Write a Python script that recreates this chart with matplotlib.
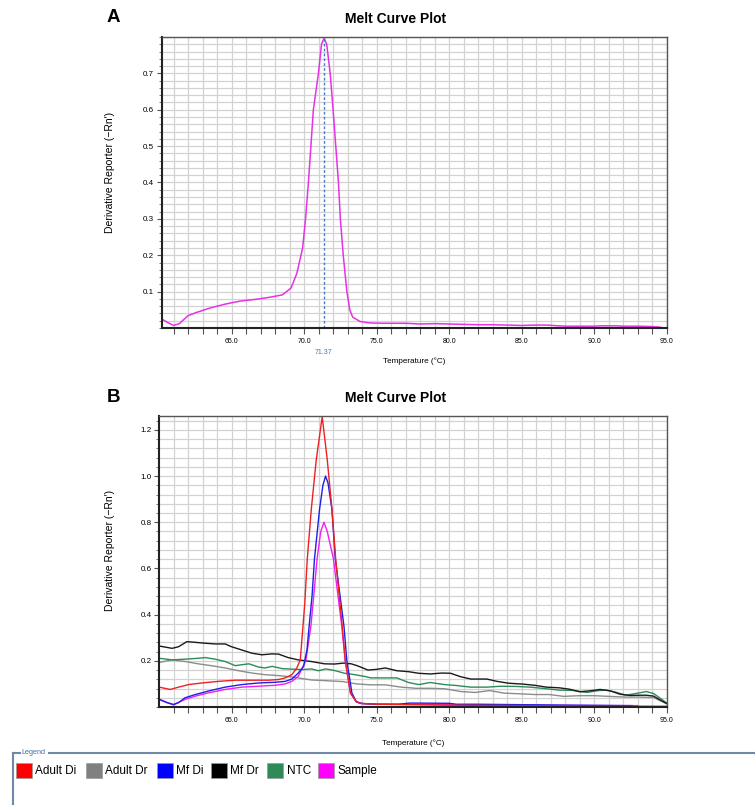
#!/usr/bin/env python3
"""Melt curve plots (panel A: sample only, panel B: all wells) with a legend strip."""
import matplotlib
matplotlib.use("Agg")
import matplotlib.pyplot as plt
from matplotlib import font_manager
from matplotlib.lines import Line2D
from matplotlib.patches import Rectangle
from matplotlib.ticker import FixedLocator, MultipleLocator, FormatStrFormatter
from matplotlib.transforms import blended_transform_factory

# ---- data ------------------------------------------------------------------
# panel A, sample well
temp_a = [60.17, 60.6, 61.0, 61.4, 62.0, 62.6, 63.6, 64.6, 65.6, 66.7, 67.7, 68.5,
          69.1, 69.5, 69.9, 70.1, 70.3, 70.64, 70.99, 71.2, 71.38, 71.56, 71.8, 72.0,
          72.37, 72.5, 72.7, 72.95, 73.15, 73.35, 73.85, 74.5, 75.5, 77.0, 78.0, 79.0,
          80.0, 81.0, 82.0, 83.0, 84.0, 85.0, 86.0, 86.8, 87.5, 88.0, 89.0, 90.0,
          90.5, 91.5, 92.0, 93.0, 94.0, 94.6]
deriv_a = [0.025, 0.015, 0.007, 0.012, 0.034, 0.043, 0.056, 0.066, 0.074, 0.079, 0.085, 0.091,
           0.11, 0.15, 0.22, 0.30, 0.40, 0.60, 0.70, 0.78, 0.797, 0.78, 0.70, 0.60,
           0.40, 0.30, 0.20, 0.10, 0.05, 0.03, 0.018, 0.014, 0.013, 0.013, 0.011, 0.012,
           0.011, 0.010, 0.009, 0.009, 0.008, 0.007, 0.008, 0.008, 0.006, 0.005, 0.005, 0.005,
           0.006, 0.006, 0.005, 0.005, 0.004, 0.002]
tm_a = 71.37

# panel B
temp_adult_di = [60.02, 60.77, 61.35, 62.03, 62.95, 64.1, 65.25, 66.4, 67.55, 68.24, 68.7,
                 69.16, 69.5, 69.74, 69.9, 70.05, 70.22, 70.5, 70.84, 71.25, 71.6, 71.92,
                 72.18, 72.63, 72.84, 73.2, 73.6, 73.85, 75.0, 80.0, 85.0, 90.0, 95.0]
adult_di = [0.086, 0.076, 0.086, 0.097, 0.104, 0.111, 0.116, 0.116, 0.116, 0.119, 0.126,
            0.14, 0.169, 0.204, 0.33, 0.45, 0.64, 0.857, 1.07, 1.257, 1.07, 0.857,
            0.64, 0.35, 0.2, 0.06, 0.023, 0.016, 0.012, 0.008, 0.006, 0.004, 0.003]

temp_adult_dr = [60.02, 60.9, 61.8, 62.7, 63.6, 64.56, 65.5, 66.4, 67.3, 68.24, 69.16, 70.1,
                 70.5, 71.5, 72.7, 73.6, 74.6, 75.6, 76.7, 77.7, 78.7, 79.7, 80.8, 81.8,
                 82.8, 83.8, 84.9, 85.9, 86.9, 87.9, 89.0, 90.0, 91.0, 92.1, 93.1, 94.1,
                 94.6, 95.0]
adult_dr = [0.193, 0.204, 0.197, 0.187, 0.179, 0.169, 0.157, 0.147, 0.14, 0.136, 0.13, 0.121,
            0.117, 0.114, 0.11, 0.1, 0.096, 0.096, 0.086, 0.081, 0.081, 0.079, 0.067, 0.063,
            0.071, 0.06, 0.057, 0.054, 0.054, 0.046, 0.049, 0.049, 0.046, 0.043, 0.043, 0.041,
            0.026, 0.014]

temp_mf_di = [60.02, 60.54, 61.0, 61.35, 61.8, 62.5, 63.4, 64.56, 65.7, 66.86, 68.0, 68.7,
              69.16, 69.6, 69.97, 70.2, 70.35, 70.55, 70.72, 71.07, 71.3, 71.48, 71.65,
              71.92, 72.15, 72.75, 72.95, 73.3, 73.6, 74.0, 75.0, 76.5, 77.3, 80.0, 80.5,
              82.0, 85.0, 88.0, 90.0, 92.6]
mf_di = [0.033, 0.019, 0.011, 0.019, 0.04, 0.054, 0.069, 0.086, 0.097, 0.104, 0.107, 0.111,
         0.121, 0.147, 0.176, 0.247, 0.35, 0.48, 0.643, 0.857, 0.96, 1.0, 0.97,
         0.857, 0.643, 0.35, 0.2, 0.06, 0.023, 0.015, 0.012, 0.012, 0.017, 0.016, 0.012,
         0.012, 0.01, 0.008, 0.007, 0.006]

temp_mf_dr = [60.02, 60.9, 61.35, 61.92, 62.5, 63.2, 63.87, 64.56, 65.0, 65.7, 66.4, 67.1,
              67.8, 68.24, 68.9, 69.6, 70.5, 71.4, 72.1, 72.7, 73.25, 73.7, 74.4, 75.0,
              75.6, 76.4, 77.2, 77.9, 78.7, 79.5, 80.1, 80.8, 81.5, 82.6, 83.3, 84.1,
              85.1, 85.9, 86.7, 87.6, 88.3, 89.0, 89.7, 90.4, 91.1, 91.8, 92.5, 93.1,
              93.6, 94.1, 94.5, 95.0]
mf_dr = [0.264, 0.254, 0.261, 0.283, 0.28, 0.276, 0.273, 0.273, 0.261, 0.247, 0.233, 0.226,
         0.23, 0.229, 0.214, 0.204, 0.197, 0.187, 0.186, 0.19, 0.187, 0.178, 0.16, 0.163,
         0.169, 0.157, 0.153, 0.146, 0.143, 0.147, 0.146, 0.131, 0.121, 0.121, 0.111, 0.103,
         0.099, 0.094, 0.086, 0.083, 0.077, 0.066, 0.07, 0.076, 0.07, 0.055, 0.05, 0.051,
         0.051, 0.047, 0.032, 0.015]

temp_ntc = [60.02, 60.9, 61.8, 62.7, 63.2, 63.87, 64.56, 65.25, 65.7, 66.2, 66.86, 67.3,
            67.8, 68.5, 69.16, 69.9, 70.5, 71.0, 71.5, 72.1, 72.8, 73.5, 74.2, 74.6,
            75.4, 76.4, 77.2, 77.9, 78.7, 79.7, 80.5, 81.5, 82.6, 83.6, 84.6, 85.6,
            86.7, 87.6, 88.5, 89.5, 90.3, 90.85, 91.5, 92.2, 93.1, 93.6, 94.1, 94.6, 95.0]
ntc = [0.211, 0.204, 0.207, 0.211, 0.214, 0.207, 0.197, 0.179, 0.183, 0.187, 0.173, 0.169,
       0.176, 0.166, 0.164, 0.162, 0.165, 0.157, 0.165, 0.158, 0.146, 0.14, 0.132, 0.126,
       0.126, 0.126, 0.106, 0.097, 0.106, 0.097, 0.093, 0.086, 0.086, 0.09, 0.089, 0.086,
       0.079, 0.073, 0.072, 0.063, 0.071, 0.073, 0.064, 0.051, 0.061, 0.067, 0.058, 0.036, 0.017]

temp_sample = [60.02, 60.54, 61.0, 61.35, 61.8, 62.5, 63.4, 64.56, 65.7, 66.86, 68.0, 68.7,
               69.16, 69.6, 70.12, 70.47, 70.68, 70.9, 71.15, 71.37, 71.6, 72.02, 72.6,
               72.84, 73.2, 73.6, 73.9, 75.0, 78.0, 80.0, 83.0, 86.0, 89.0, 92.0, 93.0]
sample = [0.033, 0.02, 0.009, 0.02, 0.033, 0.047, 0.061, 0.076, 0.086, 0.09, 0.094, 0.1,
          0.111, 0.133, 0.2, 0.35, 0.49, 0.643, 0.76, 0.8, 0.76, 0.643, 0.35,
          0.2, 0.06, 0.023, 0.015, 0.012, 0.011, 0.01, 0.009, 0.008, 0.007, 0.006, 0.006]

legend_names = ["Adult Di", "Adult Dr", "Mf Di", "Mf Dr", "NTC", "Sample"]
legend_colors = ["#ff0000", "#808080", "#0000ff", "#000000", "#2e8b57", "#ff00ff"]

# ---- layout (pixels of a 755x805 canvas) -----------------------------------
W, H = 755, 805

names = {f.name for f in font_manager.fontManager.ttflist}
NARROW = "Liberation Sans Narrow" if "Liberation Sans Narrow" in names else "Liberation Sans"
plt.rcParams["font.family"] = [NARROW, "DejaVu Sans"]


def box(left, top, right, bottom):
    return [left / W, 1 - bottom / H, (right - left) / W, (bottom - top) / H]


def fx(x):
    return x / W


def fy(y):
    return 1 - y / H


def style_axes(ax, xlim, ylim, yticks, yminor, label_y, xlabel_y, ylabel_x):
    ax.set_xlim(*xlim)
    ax.set_ylim(*ylim)
    ax.xaxis.set_major_locator(MultipleLocator(5))
    ax.xaxis.set_minor_locator(MultipleLocator(1))
    ax.xaxis.set_major_formatter(FormatStrFormatter("%.1f"))
    ax.yaxis.set_major_locator(FixedLocator(yticks))
    ax.yaxis.set_minor_locator(MultipleLocator(yminor))
    ax.yaxis.set_major_formatter(FormatStrFormatter("%.1f"))
    ax.set_axisbelow(True)
    ax.grid(which="both", color="#d2d2d2", lw=0.9)
    ax.tick_params(axis="x", which="both", direction="out", length=4, width=0.8,
                   color="#555555", labelsize=5.0, pad=3.5)
    ax.tick_params(axis="y", which="major", direction="out", length=3.5, width=0.8,
                   color="#555555", labelsize=5.8, pad=2)
    ax.tick_params(axis="y", which="minor", direction="out", length=2, width=0.7,
                   color="#777777")
    for side in ("left", "bottom"):
        ax.spines[side].set_linewidth(1.5)
        ax.spines[side].set_color("#222222")
    for side in ("top", "right"):
        ax.spines[side].set_linewidth(1.0)
        ax.spines[side].set_color("#555555")
    ax.set_xlabel("Temperature (°C)", fontsize=5.9, va="center")
    ax.xaxis.set_label_coords(0.5, xlabel_y)
    ax.set_ylabel("Derivative Reporter (−Rn′)", fontsize=7.5, va="center")
    ax.yaxis.set_label_coords(ylabel_x, label_y)


def main() -> int:
    fig = plt.figure(figsize=(W / 100, H / 100), dpi=100)

    # panel A
    ax_a = fig.add_axes(box(161.5, 37, 666.7, 328))
    style_axes(ax_a, (60.17, 95.0), (0, 0.8), [0.1, 0.2, 0.3, 0.4, 0.5, 0.6, 0.7], 0.02,
               label_y=(328 - 172) / 291, xlabel_y=(328 - 361) / 291,
               ylabel_x=(110 - 161.5) / 505.2)
    ax_a.plot(temp_a, deriv_a, color="#e632e6", lw=1.1)
    ax_a.axvline(tm_a, color="#4a7cc9", lw=1.0, ls=(0, (2, 1.5)))
    trans = blended_transform_factory(ax_a.transData, ax_a.transAxes)
    ax_a.text(tm_a, (328 - 352) / 291, f"{tm_a:.2f}", transform=trans, ha="center",
              va="center", fontsize=5.0, color="#3f73c4")

    # panel B
    ax_b = fig.add_axes(box(159.3, 416, 666.7, 707))
    style_axes(ax_b, (60.02, 95.0), (0, 1.26), [0.2, 0.4, 0.6, 0.8, 1.0, 1.2], 0.04,
               label_y=(707 - 550) / 291, xlabel_y=(707 - 743) / 291,
               ylabel_x=(110 - 159.3) / 507.4)
    series = [
        (temp_adult_dr, adult_dr, "#8c8c8c"),
        (temp_ntc, ntc, "#2e8b57"),
        (temp_mf_dr, mf_dr, "#1a1a1a"),
        (temp_sample, sample, "#f020f0"),
        (temp_mf_di, mf_di, "#1f1fe6"),
        (temp_adult_di, adult_di, "#ee2020"),
    ]
    for t, v, c in series:
        ax_b.plot(t, v, color=c, lw=1.0)

    # titles and panel letters
    for y, letter in ((19, "A"), (398, "B")):
        fig.text(fx(396), fy(y), "Melt Curve Plot", ha="center", va="center",
                 fontsize=10, weight="bold")
        fig.text(fx(107), fy(y - 1), letter, ha="left", va="center", fontsize=13.5,
                 weight="bold", family=["Liberation Sans", "DejaVu Sans"])

    # legend strip at the bottom
    frame = "#7088a8"
    fig.add_artist(Line2D([fx(12.7), fx(20)], [fy(752.5), fy(752.5)], color=frame, lw=1.5))
    fig.add_artist(Line2D([fx(48.5), fx(755)], [fy(752.5), fy(752.5)], color=frame, lw=1.5))
    fig.add_artist(Line2D([fx(12.7), fx(12.7)], [fy(752.5), fy(805)], color=frame, lw=1.5))
    fig.text(fx(21.5), fy(752.5), "Legend", ha="left", va="center", fontsize=5.2,
             color="#3f6fb0")
    box_left = [15.7, 85.7, 156.7, 210.7, 267.3, 318.3]
    for left, name, color in zip(box_left, legend_names, legend_colors):
        fig.add_artist(Rectangle((fx(left), fy(778.3)), 16 / W, 15 / H,
                                 transform=fig.transFigure, facecolor=color,
                                 edgecolor="#9a9a9a", lw=0.5))
        fig.text(fx(left + 19.5), fy(771), name, ha="left", va="center", fontsize=8.5,
                 family=["Liberation Sans", "DejaVu Sans"])

    fig.savefig("out.png", dpi=100)
    plt.close(fig)
    return 0


if __name__ == "__main__":
    raise SystemExit(main())
